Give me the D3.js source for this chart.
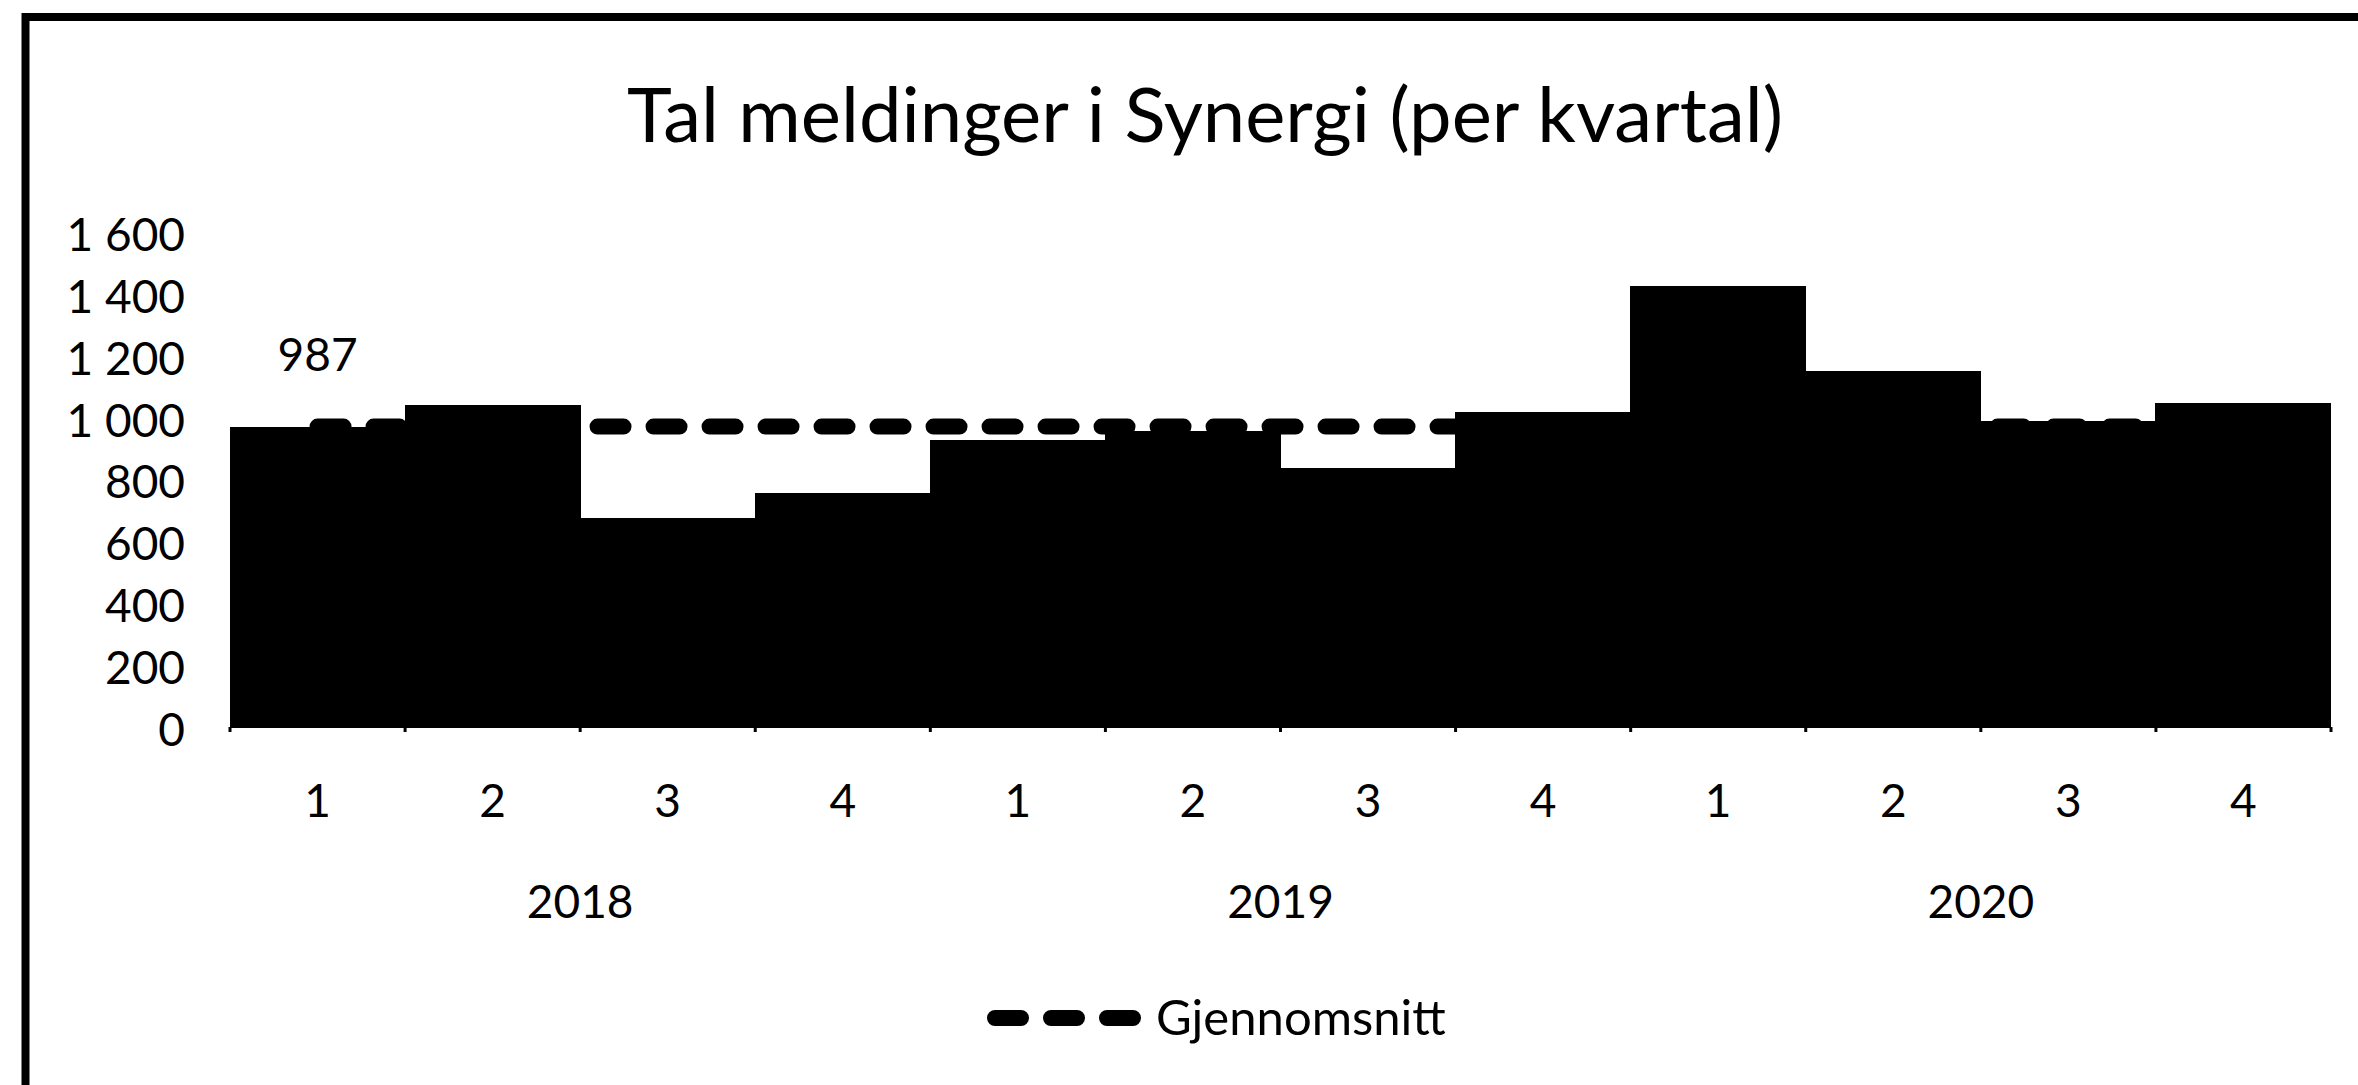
<!DOCTYPE html>
<html>
<head>
<meta charset="utf-8">
<script src="https://cdn.jsdelivr.net/npm/d3@7"></script>
<style>
  html, body { margin: 0; padding: 0; background: #fff; }
  svg { display: block; }
  text { font-family: Lato, Carlito, "Open Sans", sans-serif; fill: #000; }
</style>
</head>
<body>
<svg id="chart"></svg>
<script>
// data
const quarters = ["1", "2", "3", "4", "1", "2", "3", "4", "1", "2", "3", "4"]
const years = ["2018", "2019", "2020"]
const meldinger = [985, 1057, 688, 769, 943, 972, 850, 1034, 1450, 1170, 1006, 1066]
const gjennomsnitt = [987, 987, 987, 987, 987, 987, 987, 987, 987, 987, 987, 987]
const yTicks = [0, 200, 400, 600, 800, 1000, 1200, 1400, 1600]
const title = "Tal meldinger i Synergi (per kvartal)"
const legendLabel = "Gjennomsnitt"

let config = {
  width: 2358,
  height: 1085,
  plot: { left: 230, right: 2331, top: 240, bottom: 727 },
  font: 46,
  legendFont: 49,
  titleFont: 76
}

const svg = d3.select("#chart")
  .attr("width", config.width)
  .attr("height", config.height)

const nb = d3.formatLocale({ decimal: ",", thousands: "\u00a0", grouping: [3], currency: ["", " kr"] })
const fmt = nb.format(",d")

const x = d3.scaleBand()
  .domain(d3.range(quarters.length))
  .range([config.plot.left, config.plot.right])
  .padding(0)

const y = d3.scaleLinear()
  .domain([0, 1600])
  .range([config.plot.bottom, config.plot.top])

// the tick labels sit a little off the value scale in the original
const yLabel = d3.scaleLinear()
  .domain([0, 1600])
  .range([731, 235.5])

// outer frame (only left and top edges are inside the picture)
svg.append("rect")
  .attr("x", 25.5).attr("y", 17)
  .attr("width", 2500).attr("height", 1300)
  .attr("fill", "none")
  .attr("stroke", "#000")
  .attr("stroke-width", 8)

// title
svg.append("text")
  .attr("x", 1205).attr("y", 142)
  .attr("text-anchor", "middle")
  .style("font-size", config.titleFont + "px")
  .text(title)

// y axis labels, no line, no grid
const yAxis = d3.axisLeft(yLabel).tickValues(yTicks).tickFormat(fmt).tickSize(0).tickPadding(0)
const gy = svg.append("g")
  .attr("transform", `translate(185,0)`)
  .call(yAxis)
gy.select(".domain").remove()
gy.selectAll("text")
  .style("font-family", "Lato, Carlito, 'Open Sans', sans-serif")
  .style("font-size", config.font + "px")
  .attr("fill", "#000")

// bars
svg.append("g")
  .attr("shape-rendering", "crispEdges")
  .selectAll("rect")
  .data(meldinger)
  .enter()
  .append("rect")
  .attr("x", (d, i) => Math.floor(x(i)))
  .attr("y", d => y(d))
  .attr("width", x.bandwidth() + 1)
  .attr("height", d => y(0) - y(d))
  .attr("fill", "#000")

// x axis: baseline + small ticks at category boundaries
const gx = svg.append("g")
gx.append("line")
  .attr("x1", config.plot.left).attr("x2", config.plot.right)
  .attr("y1", y(0)).attr("y2", y(0))
  .attr("stroke", "#000").attr("stroke-width", 2)
gx.selectAll(".tick")
  .data(d3.range(quarters.length + 1))
  .enter()
  .append("line")
  .attr("class", "tick")
  .attr("x1", i => config.plot.left + i * x.step())
  .attr("x2", i => config.plot.left + i * x.step())
  .attr("y1", y(0)).attr("y2", y(0) + 5)
  .attr("stroke", "#000").attr("stroke-width", 3)

gx.selectAll(".q")
  .data(quarters)
  .enter()
  .append("text")
  .attr("class", "q")
  .attr("x", (d, i) => x(i) + x.bandwidth() / 2)
  .attr("y", 817)
  .attr("text-anchor", "middle")
  .style("font-size", config.font + "px")
  .text(d => d)

gx.selectAll(".year")
  .data(years)
  .enter()
  .append("text")
  .attr("class", "year")
  .attr("x", (d, i) => x(i * 4) + x.step() * 2)
  .attr("y", 918)
  .attr("text-anchor", "middle")
  .style("font-size", config.font + "px")
  .text(d => d)

// average line drawn over the bars
const line = d3.line()
  .x((d, i) => x(i) + x.bandwidth() / 2)
  .y(d => y(d))

svg.append("path")
  .datum(gjennomsnitt)
  .attr("d", line)
  .attr("fill", "none")
  .attr("stroke", "#000")
  .attr("stroke-width", 16)
  .attr("stroke-linecap", "round")
  .attr("stroke-dasharray", "26 30")

// data label on the first point
svg.append("text")
  .attr("x", x(0) + x.bandwidth() / 2)
  .attr("y", y(gjennomsnitt[0]) - 56)
  .attr("text-anchor", "middle")
  .style("font-size", config.font + "px")
  .text(gjennomsnitt[0])

// legend
const legend = svg.append("g")
legend.append("line")
  .attr("x1", 995).attr("x2", 1134)
  .attr("y1", 1018).attr("y2", 1018)
  .attr("stroke", "#000")
  .attr("stroke-width", 16)
  .attr("stroke-linecap", "round")
  .attr("stroke-dasharray", "26 30")
legend.append("text")
  .attr("x", 1156).attr("y", 1035)
  .style("font-size", config.legendFont + "px")
  .text(legendLabel)
</script>
</body>
</html>
